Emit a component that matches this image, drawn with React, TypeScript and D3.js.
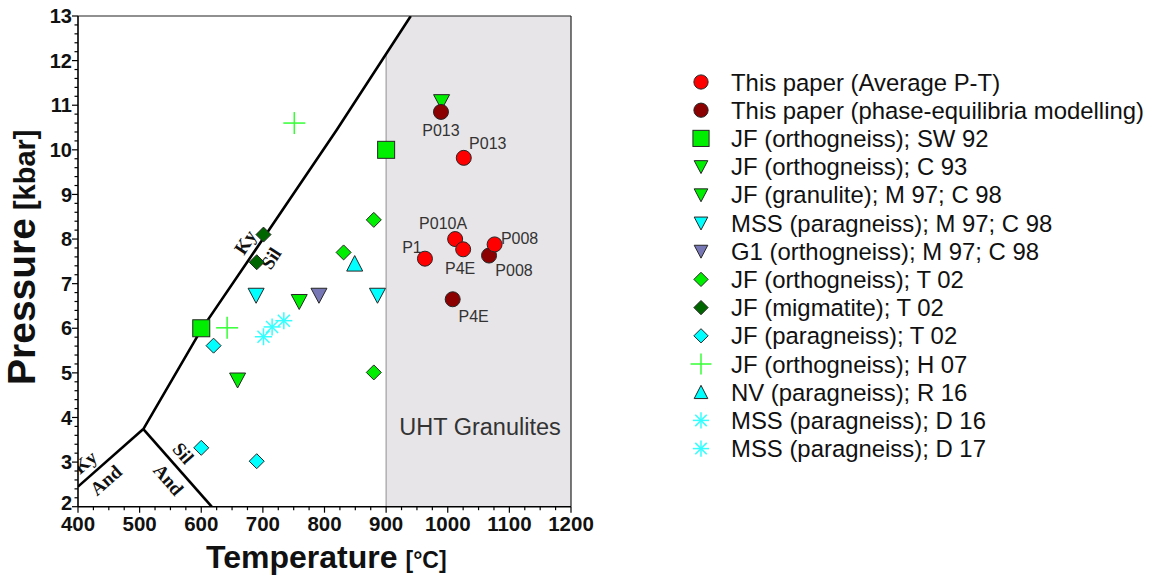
import React from "react";
import * as d3 from "d3";

const W = 1154;
const H = 579;

// ---------- data ----------
const tempTicks = [400, 500, 600, 700, 800, 900, 1000, 1100, 1200];
const pressTicks = [2, 3, 4, 5, 6, 7, 8, 9, 10, 11, 12, 13];

const avgPT = [
  { t: 1026, p: 9.82, label: "P013" },
  { t: 1012, p: 8.0, label: "P010A" },
  { t: 1025, p: 7.77, label: "P4E" },
  { t: 963, p: 7.56, label: "P1" },
  { t: 1076, p: 7.88, label: "P008" },
];
const phaseEq = [
  { t: 989, p: 10.85, label: "P013" },
  { t: 1067, p: 7.63, label: "P008" },
  { t: 1008, p: 6.65, label: "P4E" },
];
const sw92 = [{ t: 600, p: 6.0 }, { t: 900, p: 10.0 }];
const c93 = [{ t: 990, p: 11.08 }];
const m97Granulite = [{ t: 659, p: 4.84 }, { t: 759, p: 6.6 }];
const m97MSS = [{ t: 689, p: 6.74 }, { t: 886, p: 6.74 }];
const m97G1 = [{ t: 791, p: 6.74 }];
const t02Ortho = [{ t: 880, p: 8.43 }, { t: 831, p: 7.7 }, { t: 880, p: 5.01 }];
const t02Mig = [{ t: 701, p: 8.1 }, { t: 690, p: 7.48 }];
const t02Para = [{ t: 620, p: 5.61 }, { t: 600, p: 3.32 }, { t: 690, p: 3.02 }];
const h07 = [{ t: 751, p: 10.6 }, { t: 642, p: 6.01 }];
const r16 = [{ t: 849, p: 7.45 }];
const d16 = [{ t: 701, p: 5.81 }, { t: 715, p: 6.03 }];
const d17 = [{ t: 734, p: 6.17 }];

// Al2SiO5 phase boundaries (T °C, P kbar)
const kySil = [[506, 3.74], [600, 5.97], [700, 8.0], [820, 10.45], [940, 13]];
const kyAnd = [[400, 2.45], [506, 3.74]];
const andSil = [[506, 3.74], [617, 2]];
const uhtLimit = 900;

const phaseLabels = [
  { text: "Ky", t: 671, p: 7.93, rot: -57 },
  { text: "Sil", t: 713, p: 7.57, rot: -57 },
  { text: "Ky", t: 411, p: 3.0, rot: -41 },
  { text: "And", t: 445, p: 2.6, rot: -41 },
  { text: "Sil", t: 571, p: 3.2, rot: 49 },
  { text: "And", t: 547, p: 2.61, rot: 49 },
];

type Shape = "circle" | "square" | "triDown" | "triUp" | "diamond" | "plus" | "star";

const series: { name: string; key: string; data: { t: number; p: number; label?: string }[]; shape: Shape; color: string }[] = [
  { key: "avg", name: "This paper (Average P-T)", data: avgPT, shape: "circle", color: "#ff0000" },
  { key: "pe", name: "This paper (phase-equilibria modelling)", data: phaseEq, shape: "circle", color: "#8b0000" },
  { key: "sw92", name: "JF (orthogneiss); SW 92", data: sw92, shape: "square", color: "#00ee00" },
  { key: "c93", name: "JF (orthogneiss); C 93", data: c93, shape: "triDown", color: "#00ee00" },
  { key: "m97g", name: "JF (granulite); M 97; C 98", data: m97Granulite, shape: "triDown", color: "#00ee00" },
  { key: "m97m", name: "MSS (paragneiss); M 97; C 98", data: m97MSS, shape: "triDown", color: "#00ffff" },
  { key: "m97g1", name: "G1 (orthogneiss); M 97; C 98", data: m97G1, shape: "triDown", color: "#7777b5" },
  { key: "t02o", name: "JF (orthogneiss); T 02", data: t02Ortho, shape: "diamond", color: "#00ee00" },
  { key: "t02m", name: "JF (migmatite); T 02", data: t02Mig, shape: "diamond", color: "#006600" },
  { key: "t02p", name: "JF (paragneiss); T 02", data: t02Para, shape: "diamond", color: "#00ffff" },
  { key: "h07", name: "JF (orthogneiss); H 07", data: h07, shape: "plus", color: "#33ff33" },
  { key: "r16", name: "NV (paragneiss); R 16", data: r16, shape: "triUp", color: "#00ffff" },
  { key: "d16", name: "MSS (paragneiss); D 16", data: d16, shape: "star", color: "#33ffff" },
  { key: "d17", name: "MSS (paragneiss); D 17", data: d17, shape: "star", color: "#33ffff" },
];

// annotation layout (pixel offsets of sample labels)
const labelOffsets: Record<string, [number, number]> = {
  "avg-P013": [24, -15],
  "avg-P010A": [-12, -16],
  "avg-P4E": [-3, 19],
  "avg-P1": [-13, -11],
  "avg-P008": [25, -6],
  "pe-P013": [0, 18],
  "pe-P008": [25, 15],
  "pe-P4E": [21, 17],
};

// ---------- layout ----------
const X0 = 78, X1 = 571, Y0 = 506.7, Y1 = 16;
const x = d3.scaleLinear().domain([400, 1200]).range([X0, X1]);
const y = d3.scaleLinear().domain([2, 13]).range([Y0, Y1]);
const SANS = "'Liberation Sans', Arial, Helvetica, sans-serif";
const SERIF = "'Liberation Serif', 'Times New Roman', serif";

function Marker({ shape, color, cx, cy, s = 1 }: { shape: Shape; color: string; cx: number; cy: number; s?: number }) {
  const stroke = "#262626";
  const sw = 1;
  switch (shape) {
    case "circle":
      return <circle cx={cx} cy={cy} r={7.5 * s} fill={color} stroke={stroke} strokeWidth={sw} />;
    case "square": {
      const h = 8.5 * s;
      return <rect x={cx - h} y={cy - h} width={2 * h} height={2 * h} fill={color} stroke={stroke} strokeWidth={sw} />;
    }
    case "triDown": {
      const w = 8 * s, h = 7 * s;
      return <path d={`M${cx - w},${cy - h}L${cx + w},${cy - h}L${cx},${cy + h + 1}Z`} fill={color} stroke={stroke} strokeWidth={sw} />;
    }
    case "triUp": {
      const w = 8 * s, h = 7.5 * s;
      return <path d={`M${cx},${cy - h - 0.5}L${cx + w},${cy + h}L${cx - w},${cy + h}Z`} fill={color} stroke={stroke} strokeWidth={sw} />;
    }
    case "diamond": {
      const h = 7.5 * s;
      return <path d={`M${cx},${cy - h}L${cx + h},${cy}L${cx},${cy + h}L${cx - h},${cy}Z`} fill={color} stroke={stroke} strokeWidth={sw} />;
    }
    case "plus": {
      const h = 11 * s;
      return (
        <g stroke={color} strokeWidth={1.5}>
          <line x1={cx - h} x2={cx + h} y1={cy} y2={cy} />
          <line x1={cx} x2={cx} y1={cy - h} y2={cy + h} />
        </g>
      );
    }
    case "star": {
      const h = 8.5 * s;
      const d = h * Math.SQRT1_2;
      return (
        <g stroke={color} strokeWidth={1.5}>
          <line x1={cx - h} x2={cx + h} y1={cy} y2={cy} />
          <line x1={cx} x2={cx} y1={cy - h} y2={cy + h} />
          <line x1={cx - d} x2={cx + d} y1={cy - d} y2={cy + d} />
          <line x1={cx - d} x2={cx + d} y1={cy + d} y2={cy - d} />
        </g>
      );
    }
  }
  return null;
}

function interpP(line: number[][], t: number) {
  for (let i = 0; i < line.length - 1; i++) {
    const [t0, p0] = line[i];
    const [t1, p1] = line[i + 1];
    if (t >= t0 && t <= t1) return p0 + ((t - t0) / (t1 - t0)) * (p1 - p0);
  }
  return line[line.length - 1][1];
}

export default function App() {
  const lineGen = d3.line<number[]>().x((d) => x(d[0])).y((d) => y(d[1]));
  const pAt900 = interpP(kySil, uhtLimit);
  const uhtPoly: number[][] = [
    [uhtLimit, 2],
    [uhtLimit, pAt900],
    ...kySil.filter((d) => d[0] > uhtLimit),
    [1200, 13],
    [1200, 2],
  ];
  const minorX = d3.range(400, 1200.01, 25).filter((v) => v % 100 !== 0);
  const minorY = d3.range(2, 13.001, 0.2).filter((v) => Math.abs(v - Math.round(v)) > 0.01);
  const drawOrder = [...series].reverse();
  const legendX = 701, legendTextX = 731, legendY0 = 82, legendDy = 28.2;

  return (
    <svg width={W} height={H} style={{ position: "absolute", left: 0, top: 0, background: "#fff" }} fontFamily={SANS}>
      <defs>
        <clipPath id="plotClip">
          <rect x={X0} y={Y1} width={X1 - X0} height={Y0 - Y1} />
        </clipPath>
      </defs>
      <rect width={W} height={H} fill="#fff" />
      {/* UHT field */}
      <path d={lineGen(uhtPoly) + "Z"} fill="#e7e5e8" />
      <line x1={x(uhtLimit)} x2={x(uhtLimit)} y1={Y0} y2={y(pAt900)} stroke="#a0a0a0" strokeWidth={1.2} />
      <text x={480} y={435} textAnchor="middle" fontSize={23.5} fill="#333">UHT Granulites</text>

      {/* phase boundaries */}
      <g clipPath="url(#plotClip)" fill="none" stroke="#000" strokeWidth={2.6}>
        <path d={lineGen(kySil) || ""} />
        <path d={lineGen(kyAnd) || ""} />
        <path d={lineGen(andSil) || ""} />
      </g>
      <g clipPath="url(#plotClip)">
        {phaseLabels.map((l, i) => (
          <text key={i} transform={`translate(${x(l.t)},${y(l.p)}) rotate(${l.rot})`} textAnchor="middle" dy="0.35em"
            fontFamily={SERIF} fontWeight="bold" fontSize={19} fill="#111">{l.text}</text>
        ))}
      </g>

      {/* frame & axes */}
      <line x1={X0} x2={X1} y1={Y1} y2={Y1} stroke="#222" strokeWidth={1.2} />
      <line x1={X1} x2={X1} y1={Y1} y2={Y0} stroke="#222" strokeWidth={1.2} />
      <line x1={X0} x2={X1} y1={Y0} y2={Y0} stroke="#000" strokeWidth={1.6} />
      <line x1={X0} x2={X0} y1={Y1} y2={Y0} stroke="#000" strokeWidth={1.6} />
      <g stroke="#000" strokeWidth={1.2}>
        {tempTicks.map((v) => <line key={"xt" + v} x1={x(v)} x2={x(v)} y1={Y0} y2={Y0 + 6} />)}
        {minorX.map((v) => <line key={"xm" + v} x1={x(v)} x2={x(v)} y1={Y0} y2={Y0 + 3.5} />)}
        {pressTicks.map((v) => <line key={"yt" + v} x1={X0 - 6} x2={X0} y1={y(v)} y2={y(v)} />)}
        {minorY.map((v) => <line key={"ym" + v} x1={X0 - 3.5} x2={X0} y1={y(v)} y2={y(v)} />)}
      </g>
      <g fontWeight="bold" fill="#111">
        {tempTicks.map((v) => (
          <text key={"xl" + v} x={x(v)} y={531} fontSize={20.5} textAnchor="middle">{v}</text>
        ))}
        {pressTicks.map((v) => (
          <text key={"yl" + v} x={72} y={v === 2 ? y(v) - 4 : y(v)} fontSize={20} dy="0.36em" textAnchor="end">{v}</text>
        ))}
      </g>
      <text x={206} y={568} fontWeight="bold" fontSize={32} fill="#111">
        Temperature<tspan fontSize={23} dx={8}>[°C]</tspan>
      </text>
      <text transform={`translate(35,385) rotate(-90)`} fontWeight="bold" fontSize={39} fill="#111">
        Pressure<tspan fontSize={29} dx={8}>[kbar]</tspan>
      </text>

      {/* data */}
      {drawOrder.map((s) => (
        <g key={s.key}>
          {s.data.map((d, i) => (
            <Marker key={i} shape={s.shape} color={s.color} cx={x(d.t)} cy={y(d.p)} />
          ))}
        </g>
      ))}
      <g fontSize={16} fill="#333" textAnchor="middle">
        {series.flatMap((s) =>
          s.data.filter((d) => d.label).map((d, i) => {
            const off = labelOffsets[s.key + "-" + d.label] || [0, 0];
            return (
              <text key={s.key + i} x={x(d.t) + off[0]} y={y(d.p) + off[1]} dy="0.36em">{d.label}</text>
            );
          })
        )}
      </g>

      {/* legend */}
      {series.map((s, i) => {
        const cy = legendY0 + i * legendDy;
        return (
          <g key={"lg" + s.key}>
            <Marker shape={s.shape} color={s.color} cx={legendX} cy={cy} s={s.shape === "triDown" || s.shape === "triUp" ? 0.85 : 0.95} />
            <text x={legendTextX} y={cy} dy="0.36em" fontSize={23.9} fill="#111">{s.name}</text>
          </g>
        );
      })}
    </svg>
  );
}
